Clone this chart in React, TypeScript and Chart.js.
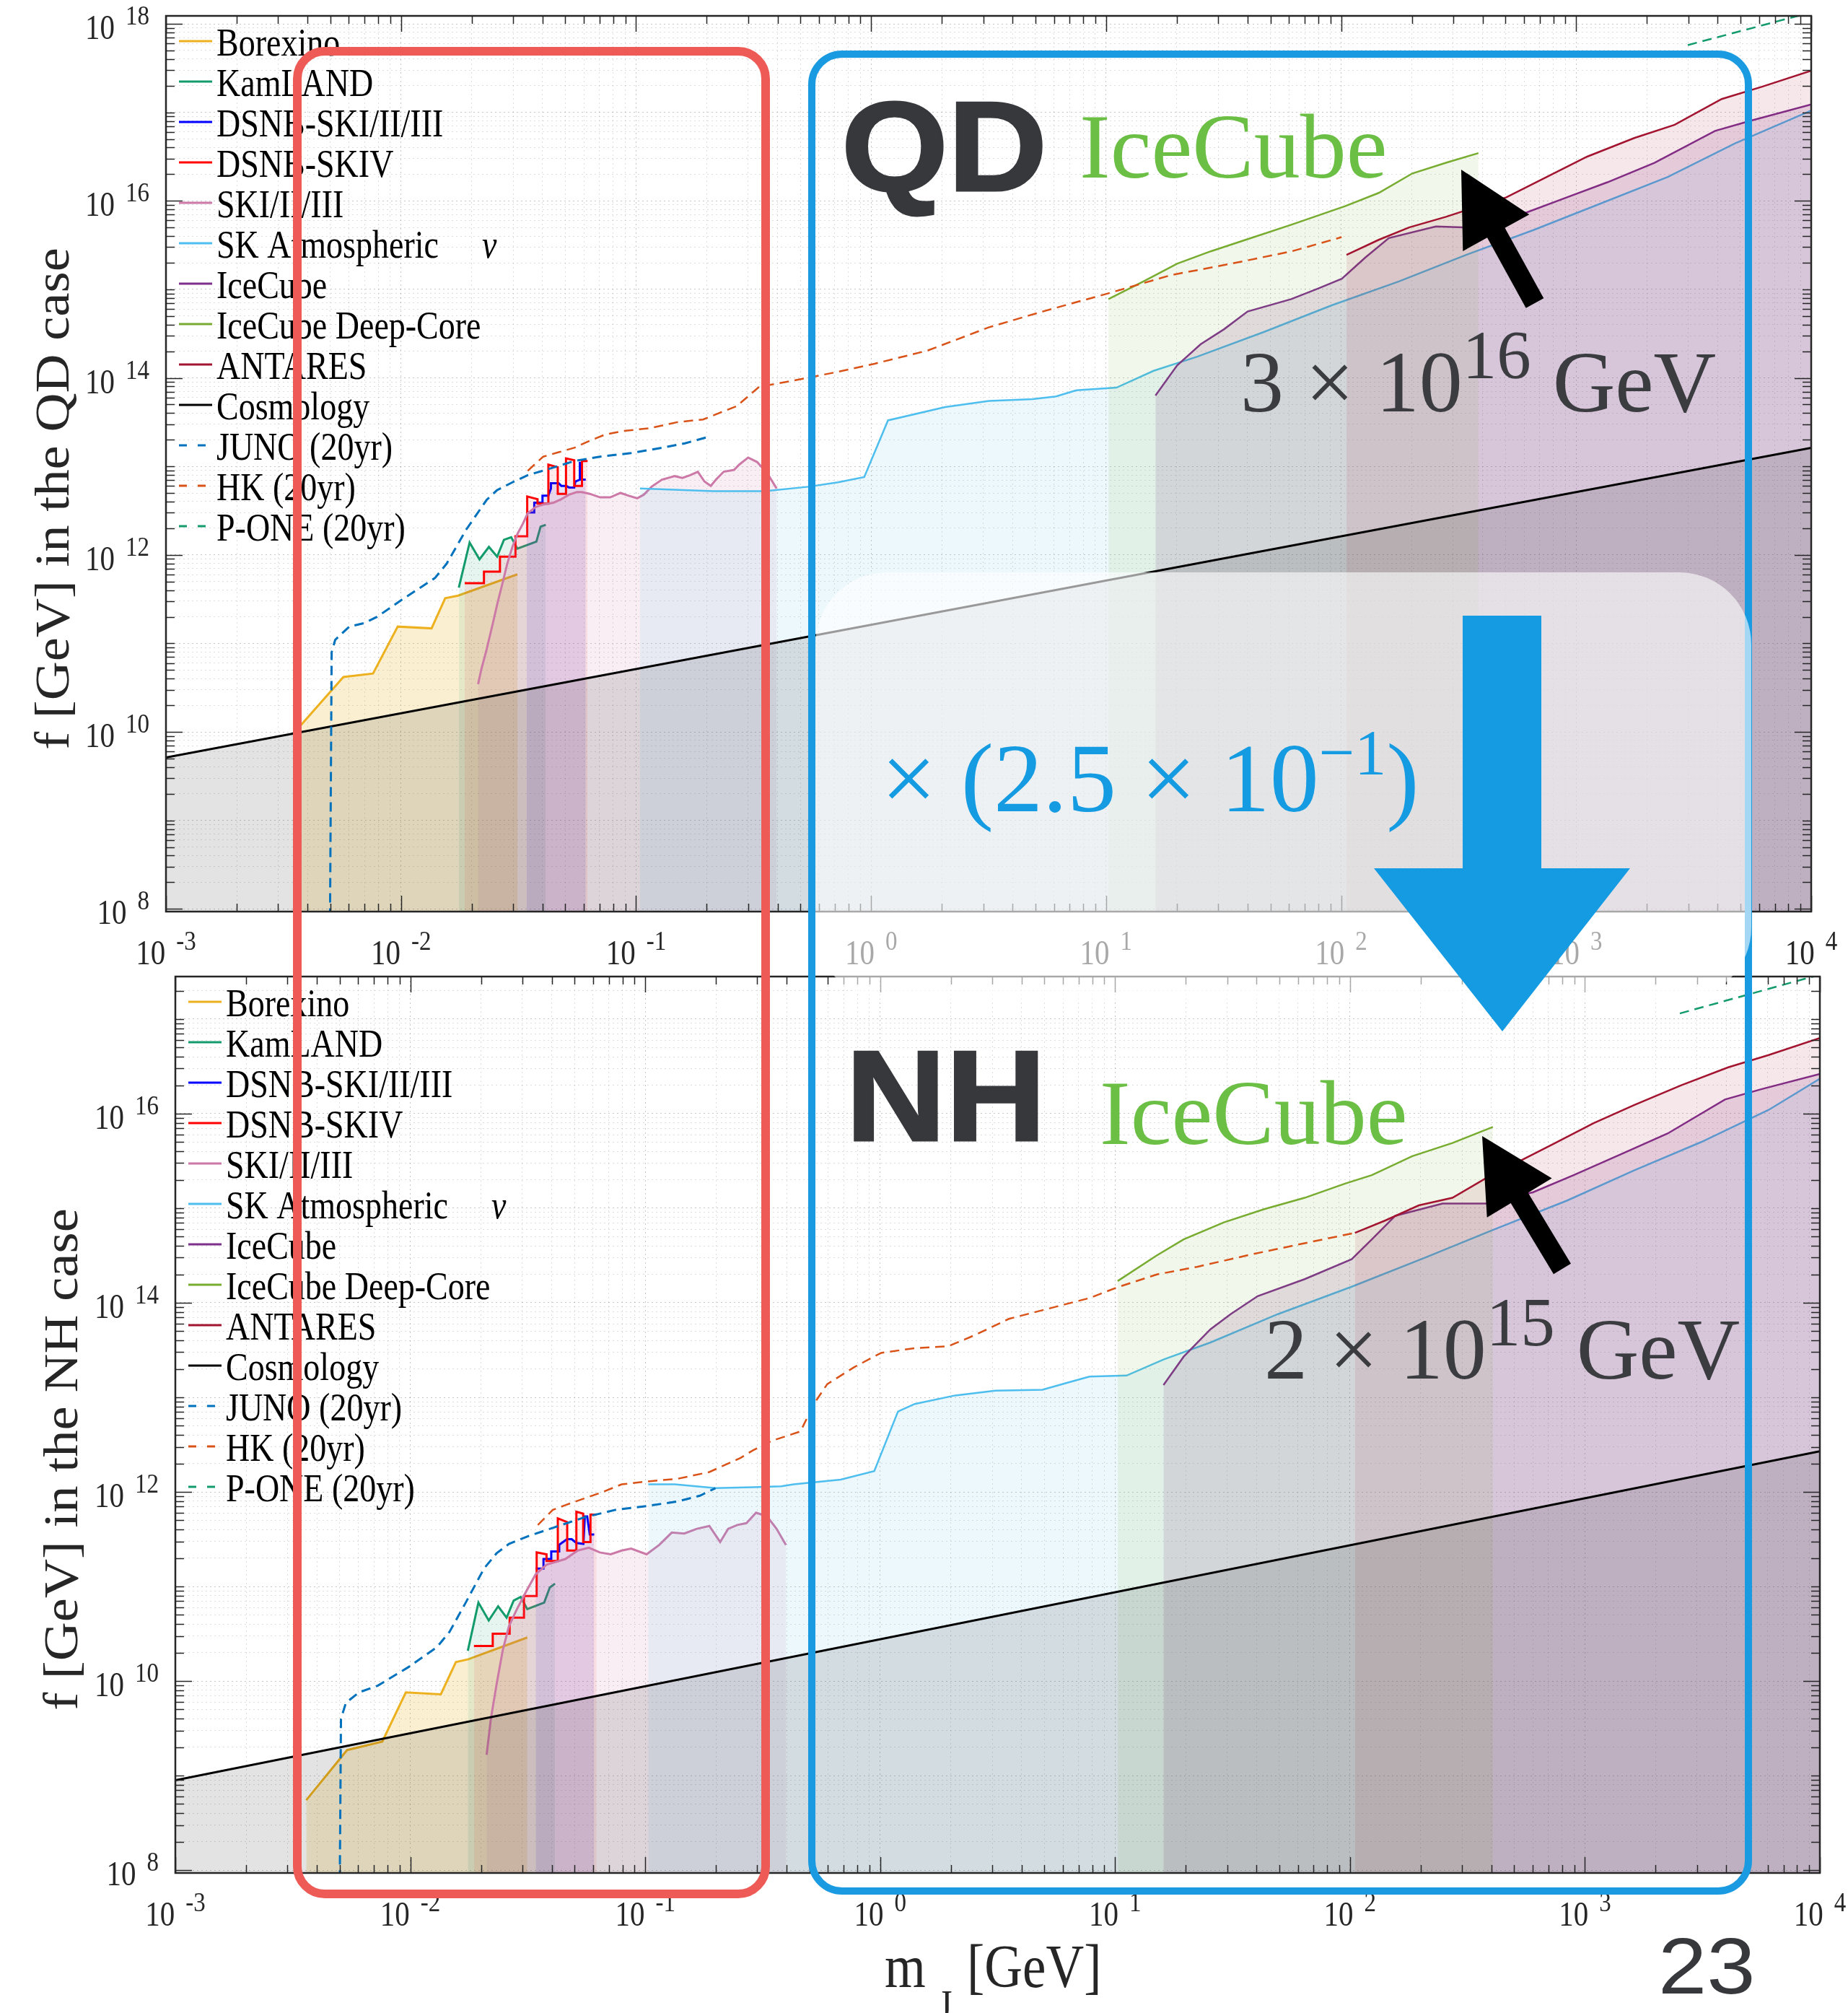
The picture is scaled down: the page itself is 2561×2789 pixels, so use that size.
import React, { useEffect, useRef } from "react";
import { Chart, registerables } from "chart.js";

Chart.register(...registerables);

const PAGE_W = 2561;
const PAGE_H = 2789;
const TEXT_STRETCH = 1.18; // the embedded MATLAB figure is stretched vertically

// ---------------- tick labels ----------------
const X_LABEL_EXPONENTS = [-3, -2, -1, 0, 1, 2, 3, 4];
const QD_Y_LABEL_EXPONENTS = [8, 10, 12, 14, 16, 18];
const NH_Y_LABEL_EXPONENTS = [8, 10, 12, 14, 16];

// ---------------- series meta ----------------
const SERIES_LABELS = [
  "Borexino",
  "KamLAND",
  "DSNB-SKI/II/III",
  "DSNB-SKIV",
  "SKI/II/III",
  "SK Atmospheric",
  "IceCube",
  "IceCube Deep-Core",
  "ANTARES",
  "Cosmology",
  "JUNO (20yr)",
  "HK (20yr)",
  "P-ONE (20yr)",
];
const SERIES_COLORS = [
  "#EDB120", "#139B6C", "#0000FF", "#FF0000", "#CC79A7", "#4DBEEE", "#7E2F8E",
  "#77AC30", "#A2142F", "#000000", "#0072BD", "#D95319", "#139B6C",
];
const SERIES_FILLS: (string | null)[] = [
  "rgba(237,177,32,0.20)",
  "rgba(19,155,108,0.10)",
  "rgba(0,0,255,0.10)",
  "rgba(255,0,0,0.08)",
  "rgba(204,121,167,0.13)",
  "rgba(77,190,238,0.10)",
  "rgba(126,47,142,0.15)",
  "rgba(119,172,48,0.10)",
  "rgba(162,20,47,0.10)",
  "rgba(0,0,0,0.11)",
  null,
  null,
  null,
];
const SERIES_WIDTHS = [3, 3, 3, 3, 3, 2.5, 2.5, 2.5, 2.5, 3, 3, 2.5, 2.5];
const SERIES_DASHED = [false, false, false, false, false, false, false, false, false, false, true, true, true];

// ---------------- data: [log10(m_J/GeV), log10(f/GeV)] ----------------
// QD case (upper panel)
const QD_BOREXINO = [[-2.435, 10.05], [-2.245, 10.62], [-2.119, 10.66], [-2.014, 11.19], [-1.87, 11.17], [-1.812, 11.51], [-1.757, 11.54], [-1.505, 11.78]];
const QD_KAMLAND = [[-1.754, 11.63], [-1.708, 12.14], [-1.666, 11.95], [-1.626, 12.09], [-1.591, 11.98], [-1.562, 12.17], [-1.531, 12.2], [-1.505, 12.07], [-1.424, 12.15], [-1.406, 12.32], [-1.384, 12.34]];
const QD_DSNB_SK123 = [[-1.465, 12.48], [-1.433, 12.48], [-1.433, 12.59], [-1.398, 12.59], [-1.398, 12.67], [-1.373, 12.67], [-1.362, 12.75], [-1.362, 12.81], [-1.329, 12.81], [-1.318, 12.78], [-1.296, 12.78], [-1.285, 12.76], [-1.263, 12.76], [-1.258, 12.83], [-1.239, 12.85], [-1.239, 13.04], [-1.232, 13.04], [-1.232, 12.85], [-1.214, 12.85]];
const QD_DSNB_SK4 = [[-1.729, 11.68], [-1.647, 11.68], [-1.647, 11.81], [-1.579, 11.81], [-1.579, 11.98], [-1.513, 11.98], [-1.513, 12.21], [-1.463, 12.21], [-1.463, 12.66], [-1.419, 12.63], [-1.419, 12.58], [-1.373, 12.58], [-1.373, 13.02], [-1.333, 12.99], [-1.333, 12.69], [-1.298, 12.69], [-1.298, 13.09], [-1.263, 13.07], [-1.263, 12.78], [-1.23, 12.78], [-1.23, 13.06], [-1.206, 13.06]];
const QD_SK123 = [[-1.672, 10.54], [-1.658, 10.71], [-1.636, 10.93], [-1.609, 11.23], [-1.59, 11.45], [-1.57, 11.66], [-1.548, 11.9], [-1.526, 12.09], [-1.504, 12.24], [-1.482, 12.35], [-1.461, 12.47], [-1.428, 12.54], [-1.395, 12.57], [-1.351, 12.59], [-1.318, 12.63], [-1.285, 12.68], [-1.252, 12.71], [-1.23, 12.71], [-1.197, 12.69], [-1.153, 12.65], [-1.11, 12.65], [-1.066, 12.7], [-1.033, 12.67], [-0.995, 12.64], [-0.967, 12.68], [-0.934, 12.77], [-0.89, 12.85], [-0.835, 12.89], [-0.803, 12.87], [-0.77, 12.9], [-0.737, 12.94], [-0.709, 12.83], [-0.682, 12.78], [-0.66, 12.85], [-0.627, 12.94], [-0.583, 12.96], [-0.561, 13.02], [-0.523, 13.1], [-0.485, 13.05], [-0.441, 12.92], [-0.402, 12.75]];
const QD_SK_ATM = [[-0.983, 12.75], [-0.671, 12.72], [-0.452, 12.72], [-0.267, 12.77], [-0.141, 12.82], [-0.029, 12.88], [0.072, 13.52], [0.315, 13.67], [0.501, 13.74], [0.687, 13.76], [0.787, 13.79], [0.873, 13.86], [1.044, 13.89], [1.202, 14.08], [1.388, 14.24], [1.673, 14.52], [1.96, 14.82], [2.246, 15.09], [2.532, 15.39], [2.818, 15.67], [3.104, 15.97], [3.39, 16.27], [3.676, 16.65], [4.0, 17.02]];
const QD_ICECUBE = [[1.21, 13.8], [1.302, 14.14], [1.402, 14.38], [1.502, 14.55], [1.602, 14.75], [1.788, 14.89], [1.903, 15.01], [2.003, 15.12], [2.103, 15.36], [2.203, 15.58], [2.403, 15.71], [2.518, 15.7], [2.79, 15.87], [2.961, 16.04], [3.133, 16.21], [3.333, 16.43], [3.591, 16.79], [3.734, 16.9], [4.0, 17.09]];
const QD_DEEPCORE = [[1.01, 14.89], [1.159, 15.09], [1.302, 15.29], [1.445, 15.43], [1.617, 15.58], [1.788, 15.73], [2.017, 15.94], [2.16, 16.09], [2.303, 16.31], [2.446, 16.43], [2.584, 16.54]];
const QD_ANTARES = [[2.023, 15.39], [2.16, 15.56], [2.289, 15.7], [2.446, 15.82], [2.573, 15.93], [2.703, 16.04], [2.875, 16.27], [3.047, 16.5], [3.247, 16.71], [3.419, 16.86], [3.619, 17.15], [3.791, 17.29], [4.0, 17.47]];
const QD_COSMOLOGY = [[-3, 9.71], [4, 13.21]];
const QD_JUNO = [[-2.302, 7.9], [-2.295, 10.9], [-2.28, 11.04], [-2.22, 11.19], [-2.156, 11.23], [-2.102, 11.3], [-1.987, 11.51], [-1.855, 11.74], [-1.806, 11.9], [-1.724, 12.28], [-1.636, 12.62], [-1.592, 12.73], [-1.526, 12.82], [-1.461, 12.9], [-1.373, 12.97], [-1.263, 13.06], [-1.154, 13.11], [-1.022, 13.15], [-0.89, 13.21], [-0.792, 13.26], [-0.698, 13.33]];
const QD_HK = [[-1.461, 12.95], [-1.395, 13.11], [-1.329, 13.16], [-1.263, 13.21], [-1.197, 13.29], [-1.131, 13.36], [-1.055, 13.4], [-0.945, 13.43], [-0.824, 13.5], [-0.715, 13.53], [-0.649, 13.6], [-0.572, 13.68], [-0.476, 13.9], [-0.329, 13.97], [-0.157, 14.06], [0.015, 14.16], [0.242, 14.31], [0.5, 14.57], [0.73, 14.75], [1.016, 14.96], [1.274, 15.16], [1.532, 15.29], [1.79, 15.43], [2.002, 15.59]];
const QD_PONE = [[3.475, 17.76], [4.0, 18.13]];

// NH case (lower panel)
const NH_BOREXINO = [[-2.443, 8.74], [-2.269, 9.27], [-2.119, 9.36], [-2.019, 9.88], [-1.87, 9.86], [-1.806, 10.2], [-1.753, 10.23], [-1.502, 10.46]];
const NH_KAMLAND = [[-1.755, 10.32], [-1.71, 10.83], [-1.666, 10.64], [-1.626, 10.79], [-1.59, 10.67], [-1.56, 10.85], [-1.53, 10.89], [-1.502, 10.76], [-1.43, 10.83], [-1.406, 10.99], [-1.384, 11.03]];
const NH_DSNB_SK123 = [[-1.466, 11.19], [-1.433, 11.19], [-1.433, 11.29], [-1.4, 11.29], [-1.4, 11.37], [-1.366, 11.37], [-1.366, 11.44], [-1.333, 11.5], [-1.313, 11.5], [-1.293, 11.46], [-1.263, 11.45], [-1.257, 11.74], [-1.247, 11.74], [-1.236, 11.55], [-1.217, 11.55]];
const NH_DSNB_SK4 = [[-1.729, 10.37], [-1.649, 10.37], [-1.649, 10.5], [-1.577, 10.5], [-1.577, 10.67], [-1.516, 10.67], [-1.516, 10.9], [-1.462, 10.9], [-1.462, 11.36], [-1.42, 11.34], [-1.42, 11.27], [-1.372, 11.27], [-1.372, 11.72], [-1.332, 11.68], [-1.332, 11.38], [-1.293, 11.38], [-1.293, 11.79], [-1.264, 11.77], [-1.264, 11.47], [-1.233, 11.47], [-1.233, 11.76], [-1.207, 11.76]];
const NH_SK123 = [[-1.675, 9.22], [-1.657, 9.6], [-1.633, 9.96], [-1.606, 10.33], [-1.58, 10.58], [-1.546, 10.76], [-1.506, 10.95], [-1.466, 11.13], [-1.42, 11.23], [-1.34, 11.29], [-1.287, 11.38], [-1.24, 11.41], [-1.193, 11.36], [-1.147, 11.34], [-1.1, 11.38], [-1.06, 11.4], [-0.994, 11.34], [-0.94, 11.44], [-0.887, 11.57], [-0.834, 11.56], [-0.78, 11.61], [-0.727, 11.64], [-0.681, 11.47], [-0.647, 11.61], [-0.608, 11.65], [-0.569, 11.67], [-0.528, 11.78], [-0.481, 11.74], [-0.441, 11.61], [-0.401, 11.44]];
const NH_SK_ATM = [[-0.987, 12.08], [-0.874, 12.08], [-0.701, 12.04], [-0.541, 12.05], [-0.421, 12.06], [-0.368, 12.08], [-0.168, 12.13], [-0.025, 12.22], [0.076, 12.85], [0.147, 12.93], [0.319, 13.02], [0.49, 13.07], [0.691, 13.08], [0.805, 13.16], [0.891, 13.22], [1.049, 13.23], [1.206, 13.4], [1.406, 13.58], [1.693, 13.88], [2.007, 14.17], [2.322, 14.48], [2.608, 14.77], [2.923, 15.08], [3.209, 15.4], [3.495, 15.7], [3.782, 16.04], [4.0, 16.37]];
const NH_ICECUBE = [[1.206, 13.13], [1.292, 13.43], [1.406, 13.72], [1.492, 13.88], [1.607, 14.07], [1.807, 14.25], [2.007, 14.46], [2.093, 14.67], [2.193, 14.92], [2.394, 15.05], [2.58, 15.05], [2.78, 15.17], [2.952, 15.35], [3.152, 15.57], [3.352, 15.79], [3.596, 16.15], [3.753, 16.26], [4.0, 16.42]];
const NH_DEEPCORE = [[1.011, 14.23], [1.177, 14.5], [1.292, 14.67], [1.463, 14.85], [1.635, 14.99], [1.807, 15.11], [1.979, 15.26], [2.093, 15.35], [2.265, 15.55], [2.436, 15.69], [2.608, 15.86]];
const NH_ANTARES = [[2.021, 14.74], [2.15, 14.87], [2.293, 15.03], [2.436, 15.11], [2.58, 15.32], [2.7, 15.47], [2.866, 15.68], [3.037, 15.9], [3.209, 16.09], [3.41, 16.3], [3.61, 16.49], [3.782, 16.62], [4.0, 16.8]];
const NH_COSMOLOGY = [[-3, 8.95], [4, 12.43]];
const NH_JUNO = [[-2.3, 7.9], [-2.295, 9.6], [-2.274, 9.77], [-2.218, 9.88], [-2.139, 9.95], [-2.006, 10.15], [-1.886, 10.36], [-1.833, 10.52], [-1.766, 10.82], [-1.686, 11.19], [-1.633, 11.35], [-1.58, 11.45], [-1.5, 11.53], [-1.393, 11.62], [-1.26, 11.73], [-1.127, 11.81], [-0.994, 11.85], [-0.86, 11.9], [-0.767, 11.96], [-0.701, 12.04]];
const NH_HK = [[-1.457, 11.65], [-1.393, 11.81], [-1.34, 11.86], [-1.26, 11.93], [-1.18, 12.0], [-1.1, 12.08], [-0.994, 12.11], [-0.86, 12.14], [-0.727, 12.21], [-0.674, 12.27], [-0.594, 12.36], [-0.541, 12.44], [-0.461, 12.54], [-0.339, 12.64], [-0.282, 12.93], [-0.225, 13.14], [-0.11, 13.32], [0.004, 13.47], [0.147, 13.52], [0.29, 13.54], [0.405, 13.66], [0.548, 13.83], [0.72, 13.94], [0.891, 14.05], [1.006, 14.16], [1.178, 14.3], [1.349, 14.38], [1.578, 14.51], [1.807, 14.63], [2.021, 14.74]];
const NH_PONE = [[3.404, 17.06], [4.0, 17.47]];

const QD_SERIES = [QD_BOREXINO, QD_KAMLAND, QD_DSNB_SK123, QD_DSNB_SK4, QD_SK123, QD_SK_ATM, QD_ICECUBE, QD_DEEPCORE, QD_ANTARES, QD_COSMOLOGY, QD_JUNO, QD_HK, QD_PONE];
const NH_SERIES = [NH_BOREXINO, NH_KAMLAND, NH_DSNB_SK123, NH_DSNB_SK4, NH_SK123, NH_SK_ATM, NH_ICECUBE, NH_DEEPCORE, NH_ANTARES, NH_COSMOLOGY, NH_JUNO, NH_HK, NH_PONE];

// ---------------- helpers ----------------
function logTicks(min: number, max: number) {
  const out: { value: number; major: boolean }[] = [];
  const e0 = Math.floor(Math.log10(min));
  const e1 = Math.ceil(Math.log10(max));
  for (let e = e0; e <= e1; e++) {
    for (let k = 1; k <= 9; k++) {
      const v = k * Math.pow(10, e);
      if (v >= min * 0.9999 && v <= max * 1.0001) out.push({ value: v, major: k === 1 });
    }
  }
  return out;
}

function sText(ctx: CanvasRenderingContext2D, txt: string, x: number, y: number, size: number, italic = false) {
  ctx.save();
  ctx.translate(x, y);
  ctx.scale(1, TEXT_STRETCH);
  ctx.font = `${italic ? "italic " : ""}${size}px "Liberation Serif"`;
  ctx.textAlign = "left";
  ctx.textBaseline = "alphabetic";
  ctx.fillText(txt, 0, 0);
  ctx.restore();
}

function drawPow(ctx: CanvasRenderingContext2D, exp: number, x: number, baseY: number, anchor: "center" | "right") {
  const base = "10";
  const sup = String(exp);
  ctx.font = '41px "Liberation Serif"';
  const wb = ctx.measureText(base).width;
  ctx.font = '33px "Liberation Serif"';
  const ws = ctx.measureText(sup).width;
  const gap = 15;
  const total = wb + gap + ws;
  const left = anchor === "center" ? x - total / 2 : x - total;
  sText(ctx, base, left, baseY, 41);
  sText(ctx, sup, left + wb + gap, baseY - 20, 33);
}

const matlabAxesPlugin = {
  id: "matlabAxes",
  afterDraw(chart: any, _args: any, opts: any) {
    const { ctx, chartArea: a, scales } = chart;
    const xs = scales.x;
    const ys = scales.y;
    ctx.save();
    // tick marks (inside, on all four sides)
    ctx.strokeStyle = "#262626";
    ctx.lineWidth = 1.5;
    ctx.beginPath();
    for (const t of xs.ticks) {
      const px = Math.round(xs.getPixelForValue(t.value)) + 0.5;
      const len = t.major ? 22 : 11;
      ctx.moveTo(px, a.bottom);
      ctx.lineTo(px, a.bottom - len);
      ctx.moveTo(px, a.top);
      ctx.lineTo(px, a.top + len);
    }
    for (const t of ys.ticks) {
      const py = Math.round(ys.getPixelForValue(t.value)) + 0.5;
      const e = Math.round(Math.log10(t.value));
      const labeled = t.major && opts.yLabels.includes(e);
      const len = labeled ? 23 : 12;
      ctx.moveTo(a.left, py);
      ctx.lineTo(a.left + len, py);
      ctx.moveTo(a.right, py);
      ctx.lineTo(a.right - len, py);
    }
    ctx.stroke();
    // box
    ctx.lineWidth = 2.5;
    ctx.strokeRect(a.left, a.top, a.right - a.left, a.bottom - a.top);

    // tick labels
    ctx.fillStyle = "#262626";
    for (const e of X_LABEL_EXPONENTS) {
      drawPow(ctx, e, xs.getPixelForValue(Math.pow(10, e)), a.bottom + 73, "center");
    }
    for (const e of opts.yLabels) {
      drawPow(ctx, e, a.left - 23, ys.getPixelForValue(Math.pow(10, e)) + 21, "right");
    }

    // legend (upper-left, inside axes, no box)
    const x0 = a.left + 18;
    const x1 = a.left + 64;
    const tx = a.left + 70;
    SERIES_LABELS.forEach((lab, i) => {
      const y = a.top + 35 + i * 56;
      ctx.strokeStyle = SERIES_COLORS[i];
      ctx.lineWidth = 3;
      ctx.setLineDash(SERIES_DASHED[i] ? [11, 15] : []);
      ctx.beginPath();
      ctx.moveTo(x0, y);
      ctx.lineTo(x1, y);
      ctx.stroke();
      ctx.setLineDash([]);
      ctx.fillStyle = "#000";
      sText(ctx, lab, tx, y + 20, 46);
      if (lab === "SK Atmospheric") {
        ctx.font = '46px "Liberation Serif"';
        const w = ctx.measureText(lab).width;
        sText(ctx, "ν", tx + w + 60, y + 20, 46, true);
      }
    });
    ctx.restore();
  },
};

type PanelProps = {
  top: number;
  height: number;
  area: { left: number; right: number; top: number; bottom: number };
  yMinExp: number;
  yMaxExp: number;
  series: number[][][];
  yLabels: number[];
};

function LogPanel({ top, height, area, yMinExp, yMaxExp, series, yLabels }: PanelProps) {
  const ref = useRef<HTMLCanvasElement>(null);
  useEffect(() => {
    if (!ref.current) return;
    const n = series.length;
    const datasets = series.map((pts, i) => ({
      label: SERIES_LABELS[i],
      data: pts.map(([a, b]) => ({ x: Math.pow(10, a), y: Math.pow(10, b) })),
      borderColor: SERIES_COLORS[i],
      backgroundColor: SERIES_FILLS[i] ?? "rgba(0,0,0,0)",
      fill: SERIES_FILLS[i] ? "start" : false,
      borderWidth: SERIES_WIDTHS[i],
      borderDash: SERIES_DASHED[i] ? [13, 8] : [],
      pointRadius: 0,
      pointHoverRadius: 0,
      tension: 0,
      order: n - i,
    }));
    const gridColor = (c: any) => (c.tick && c.tick.major ? "rgba(0,0,0,0.22)" : "rgba(0,0,0,0.13)");
    const chart = new Chart(ref.current, {
      type: "line",
      data: { datasets } as any,
      plugins: [matlabAxesPlugin as any],
      options: {
        animation: false,
        responsive: false,
        maintainAspectRatio: false,
        devicePixelRatio: 1,
        events: [],
        layout: { padding: { left: 0, top: area.top, right: PAGE_W - area.right, bottom: 0 } },
        plugins: {
          legend: { display: false },
          tooltip: { enabled: false },
          matlabAxes: { yLabels },
        } as any,
        scales: {
          x: {
            type: "logarithmic",
            position: "bottom",
            min: 1e-3,
            max: 1e4,
            afterBuildTicks: (s: any) => {
              s.ticks = logTicks(1e-3, 1e4);
            },
            afterFit: (s: any) => {
              s.height = height - area.bottom;
            },
            ticks: { display: false },
            grid: { color: gridColor, lineWidth: 1, drawTicks: false },
            border: { display: false, dash: [2, 4] },
          },
          y: {
            type: "logarithmic",
            position: "left",
            min: Math.pow(10, yMinExp),
            max: Math.pow(10, yMaxExp),
            afterBuildTicks: (s: any) => {
              s.ticks = logTicks(Math.pow(10, yMinExp), Math.pow(10, yMaxExp));
            },
            afterFit: (s: any) => {
              s.width = area.left;
            },
            ticks: { display: false },
            grid: { color: gridColor, lineWidth: 1, drawTicks: false },
            border: { display: false, dash: [2, 4] },
          },
        } as any,
      },
    });
    return () => chart.destroy();
  }, []);
  return (
    <canvas
      ref={ref}
      width={PAGE_W}
      height={height}
      style={{ position: "absolute", left: 0, top, width: PAGE_W, height, display: "block" }}
    />
  );
}

function arrowPolygon(tail: number[], tip: number[], shaftW: number, headL: number, headW: number) {
  const dx = tip[0] - tail[0];
  const dy = tip[1] - tail[1];
  const L = Math.hypot(dx, dy);
  const ux = dx / L, uy = dy / L;
  const nx = -uy, ny = ux;
  const bx = tip[0] - ux * headL, by = tip[1] - uy * headL;
  const p = [
    [tail[0] + (nx * shaftW) / 2, tail[1] + (ny * shaftW) / 2],
    [bx + (nx * shaftW) / 2, by + (ny * shaftW) / 2],
    [bx + (nx * headW) / 2, by + (ny * headW) / 2],
    tip,
    [bx - (nx * headW) / 2, by - (ny * headW) / 2],
    [bx - (nx * shaftW) / 2, by - (ny * shaftW) / 2],
    [tail[0] - (nx * shaftW) / 2, tail[1] - (ny * shaftW) / 2],
  ];
  return p.map((q) => q.map((v) => v.toFixed(1)).join(",")).join(" ");
}

const SERIF = "Liberation Serif";
const SANS = "Liberation Sans";

function Annotations() {
  return (
    <svg
      width={PAGE_W}
      height={PAGE_H}
      style={{ position: "absolute", left: 0, top: 0, pointerEvents: "none" }}
    >
      {/* axis titles */}
      <text transform="translate(72,691) rotate(-90) scale(1.1,1)" textAnchor="middle" dominantBaseline="central" fontFamily={SERIF} fontSize={68} fill="#262626">
        f [GeV] in the QD case
      </text>
      <text transform="translate(84,2022) rotate(-90) scale(1.1,1)" textAnchor="middle" dominantBaseline="central" fontFamily={SERIF} fontSize={68} fill="#262626">
        f [GeV] in the NH case
      </text>
      <g fill="#262626" fontFamily={SERIF}>
        <text transform="translate(1226,2753) scale(1,1.15)" fontSize={73}>m</text>
        <text transform="translate(1300,2797) scale(1,1.15)" fontSize={50}>J</text>
        <text transform="translate(1340,2753) scale(1,1.15)" fontSize={73}>[GeV]</text>
      </g>

      {/* hand-drawn boxes */}
      <rect x={412} y={71} width={649} height={2553} rx={38} ry={38} fill="none" stroke="#EE5B56" strokeWidth={12} />
      <rect x={1125} y={75} width={1298} height={2545} rx={42} ry={42} fill="none" stroke="#1A9BE1" strokeWidth={10} />

      {/* translucent white panel */}
      <rect x={1130} y={793} width={1297} height={592} rx={100} ry={100} fill="#FFFFFF" fillOpacity={0.6} />

      {/* big blue arrow and factor */}
      <polygon points="2027,853 2136,853 2136,1203 2259,1203 2082,1429 1904,1203 2027,1203" fill="#149BE2" />
      <text x={1221} y={1124} fontFamily={SERIF} fontSize={136} fill="#149BE2">
        × (2.5 × 10<tspan fontSize={88} dy={-52}>−1</tspan>
        <tspan dy={52}>)</tspan>
      </text>

      {/* QD labels */}
      <text transform="translate(1166,264) scale(1.08,1)" fontFamily={SANS} fontWeight={700} fontSize={176} fill="#36383C" stroke="#36383C" strokeWidth={3}>QD</text>
      <text x={1496} y={246} fontFamily={SERIF} fontSize={128} fill="#6CBF45">IceCube</text>
      <polygon points={arrowPolygon([2127, 420], [2025, 235], 28, 100, 105)} fill="#000" />
      <text x={1719} y={570} fontFamily={SERIF} fontSize={120} fill="#3A3C40">
        3 × 10<tspan fontSize={95} dy={-46}>16</tspan>
        <tspan dy={46}> GeV</tspan>
      </text>

      {/* NH labels */}
      <text transform="translate(1172,1580) scale(1.08,1)" fontFamily={SANS} fontWeight={700} fontSize={178} fill="#36383C" stroke="#36383C" strokeWidth={3}>NH</text>
      <text x={1524} y={1585} fontFamily={SERIF} fontSize={128} fill="#6CBF45">IceCube</text>
      <polygon points={arrowPolygon([2165, 1758], [2054, 1574], 28, 100, 105)} fill="#000" />
      <text x={1752} y={1910} fontFamily={SERIF} fontSize={120} fill="#3A3C40">
        2 × 10<tspan fontSize={95} dy={-46}>15</tspan>
        <tspan dy={46}> GeV</tspan>
      </text>

      {/* page number */}
      <text transform="translate(2298,2762) scale(1.1,1)" fontFamily={SANS} fontSize={110} fill="#36383C">23</text>
    </svg>
  );
}

export default function App() {
  return (
    <div
      style={{
        position: "absolute",
        left: 0,
        top: 0,
        width: PAGE_W,
        height: PAGE_H,
        background: "#FFFFFF",
        overflow: "hidden",
      }}
    >
      <LogPanel
        top={0}
        height={1340}
        area={{ left: 230, right: 2510, top: 22, bottom: 1263 }}
        yMinExp={7.97}
        yMaxExp={18.09}
        series={QD_SERIES}
        yLabels={QD_Y_LABEL_EXPONENTS}
      />
      <LogPanel
        top={1340}
        height={1449}
        area={{ left: 243, right: 2522, top: 13, bottom: 1255 }}
        yMinExp={7.97}
        yMaxExp={17.45}
        series={NH_SERIES}
        yLabels={NH_Y_LABEL_EXPONENTS}
      />
      <Annotations />
    </div>
  );
}
